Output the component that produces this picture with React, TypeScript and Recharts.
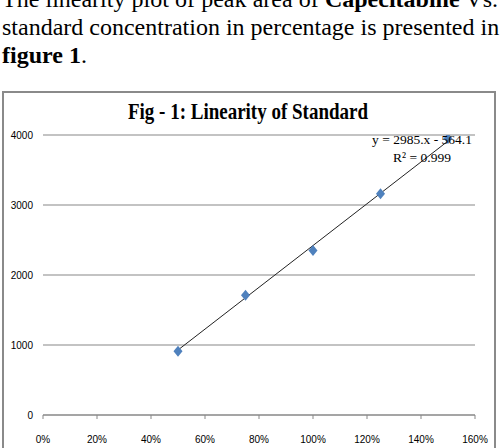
import React from 'react';
import {
  CartesianGrid,
  ReferenceLine,
  Scatter,
  ScatterChart,
  XAxis,
  YAxis,
} from 'recharts';

// standard concentration (fraction of nominal) vs. peak area
const concentrations = [0.5, 0.75, 1.0, 1.25, 1.5];
const peakAreas = [910, 1710, 2350, 3160, 3950];

const xTicks = [0, 0.2, 0.4, 0.6, 0.8, 1.0, 1.2, 1.4, 1.6];
const yTicks = [0, 1000, 2000, 3000, 4000];

// fitted line as printed on the chart
const slope = 2985;
const intercept = -564.1;
const fitLabel = 'y = 2985.x - 564.1';
const r2Label = 'R² = 0.999';

const points = concentrations.map((x, i) => ({ x, y: peakAreas[i] }));
const fitStart = concentrations[0];
const fitEnd = concentrations[concentrations.length - 1];

const GRID = '#878787';
const SERIF = '"Liberation Serif", "Times New Roman", serif';

function Diamond(props: any) {
  const { cx, cy } = props;
  if (cx == null || cy == null) return null;
  return (
    <polygon
      points={`${cx},${cy - 5.5} ${cx + 4.5},${cy} ${cx},${cy + 5.5} ${cx - 4.5},${cy}`}
      fill="#4F81BD"
    />
  );
}

export default function App() {
  const lineStyle: React.CSSProperties = {
    position: 'absolute',
    left: 2,
    width: 496,
    height: 28,
    lineHeight: '28px',
    fontSize: 24,
    fontFamily: SERIF,
    color: '#000',
    whiteSpace: 'nowrap',
  };

  return (
    <div
      style={{
        position: 'absolute',
        left: 0,
        top: 0,
        width: 504,
        height: 448,
        overflow: 'hidden',
        background: '#fff',
      }}
    >
      <div style={{ ...lineStyle, top: -15, textAlign: 'justify', textAlignLast: 'justify' }}>
        The linearity plot of peak area of <b>Capecitabine</b> Vs.
      </div>
      <div style={{ ...lineStyle, top: 13, textAlign: 'justify', textAlignLast: 'justify' }}>
        standard concentration in percentage is presented in
      </div>
      <div style={{ ...lineStyle, top: 41 }}>
        <b>figure 1</b>.
      </div>

      {/* chart frame */}
      <div
        style={{
          position: 'absolute',
          left: 2,
          top: 91,
          width: 490,
          height: 400,
          border: '2px solid #8a8a8a',
        }}
      />

      <div style={{ position: 'absolute', left: 0, top: 0 }}>
        <ScatterChart
          width={504}
          height={448}
          margin={{ top: 135, right: 29, bottom: 0, left: 0 }}
        >
          <CartesianGrid vertical={false} stroke={GRID} strokeWidth={1} />
          <XAxis
            type="number"
            dataKey="x"
            domain={[0, 1.6]}
            ticks={xTicks}
            height={33}
            tickSize={4}
            tickMargin={17}
            axisLine={{ stroke: GRID }}
            tickLine={{ stroke: GRID }}
            tick={{ fill: '#000', fontSize: 10, fontFamily: '"Liberation Sans", Arial, sans-serif' }}
            tickFormatter={(v: number) => `${Math.round(v * 100)}%`}
            allowDataOverflow
          />
          <YAxis
            type="number"
            dataKey="y"
            domain={[0, 4000]}
            ticks={yTicks}
            width={43}
            axisLine={false}
            tickLine={false}
            tickSize={0}
            tickMargin={10}
            tick={{ fill: '#000', fontSize: 10, fontFamily: '"Liberation Sans", Arial, sans-serif' }}
            allowDataOverflow
          />
          <ReferenceLine
            segment={[
              { x: fitStart, y: slope * fitStart + intercept },
              { x: fitEnd, y: slope * fitEnd + intercept },
            ]}
            stroke="#222"
            strokeWidth={1}
            ifOverflow="visible"
          />
          <Scatter data={points} shape={Diamond} isAnimationActive={false} />
        </ScatterChart>
      </div>

      <div
        style={{
          position: 'absolute',
          left: 0,
          top: 99,
          width: 496,
          textAlign: 'center',
          fontFamily: SERIF,
          fontWeight: 'bold',
          fontSize: 19,
          lineHeight: '28px',
          transform: 'scaleY(1.18)',
          transformOrigin: '50% 20px',
        }}
      >
        Fig - 1: Linearity of Standard
      </div>
      <div
        style={{
          position: 'absolute',
          left: 362,
          top: 131,
          width: 120,
          textAlign: 'center',
          fontFamily: SERIF,
          fontSize: 13.5,
          lineHeight: '18px',
        }}
      >
        <div>{fitLabel}</div>
        <div>{r2Label}</div>
      </div>
    </div>
  );
}
